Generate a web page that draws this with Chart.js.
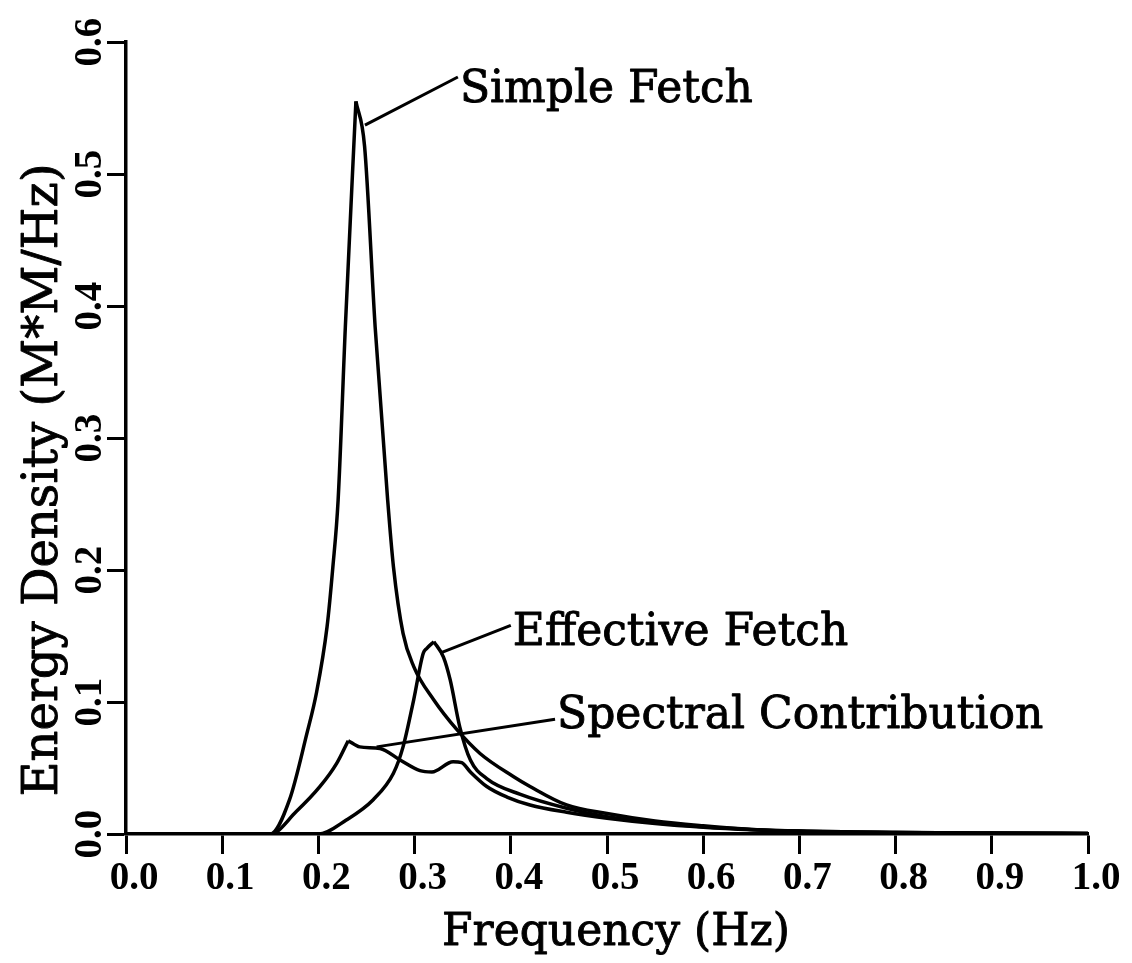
<!DOCTYPE html>
<html lang="en">
<head>
<meta charset="utf-8"/>
<title>Energy Density Spectra</title>
<script src="https://cdn.jsdelivr.net/npm/chart.js"></script>
<style>
  html, body { margin: 0; padding: 0; background: #fff; }
  #spectrum { display: block; }
</style>
</head>
<body>
<canvas id="spectrum" width="1132" height="963"></canvas>
<script>
  // spectra: frequency (Hz) / energy density (M*M/Hz)
  const simpleFreq   = [0.0, 0.150, 0.170, 0.188, 0.198, 0.209, 0.215, 0.2205, 0.228, 0.239, 0.248, 0.259, 0.272, 0.278, 0.288, 0.299, 0.320, 0.344, 0.368, 0.403, 0.420, 0.458, 0.500, 0.550, 0.600, 0.650, 0.700, 0.800, 0.900, 1.0];
  const simpleEnergy = [0.0, 0.0,   0.026, 0.076, 0.107, 0.157, 0.202, 0.253,  0.384, 0.555, 0.521, 0.384, 0.253, 0.2025, 0.152, 0.127, 0.1015, 0.079, 0.061, 0.0434, 0.036, 0.022, 0.0155, 0.0098, 0.0062, 0.0035, 0.0022, 0.0012, 0.0007, 0.0004];

  const effectiveFreq   = [0.0, 0.200, 0.229, 0.257, 0.278, 0.288, 0.299, 0.309, 0.3125, 0.320, 0.330, 0.337, 0.347, 0.358, 0.375, 0.410, 0.458, 0.500, 0.550, 0.600, 0.650, 0.700, 0.800, 0.900, 1.0];
  const effectiveEnergy = [0.0, 0.0,   0.0106, 0.026, 0.046, 0.066, 0.1015, 0.137, 0.1405, 0.1457, 0.134, 0.1167, 0.081, 0.056, 0.042, 0.030, 0.0195, 0.013, 0.0085, 0.0055, 0.0035, 0.0022, 0.0012, 0.0007, 0.0004];

  const spectralFreq   = [0.0, 0.150, 0.177, 0.2017, 0.219, 0.231, 0.243, 0.264, 0.285, 0.3056, 0.318, 0.340, 0.349, 0.358, 0.375, 0.396, 0.420, 0.458, 0.500, 0.550, 0.600, 0.650, 0.700, 0.800, 0.900, 1.0];
  const spectralEnergy = [0.0, 0.0,   0.017, 0.036, 0.0535, 0.0707, 0.066, 0.0648, 0.056, 0.048, 0.047, 0.0548, 0.054, 0.047, 0.036, 0.028, 0.022, 0.0165, 0.012, 0.008, 0.0052, 0.0033, 0.0021, 0.0011, 0.0006, 0.0003];

  // curve labels: text, leader start (on curve), leader end / text anchor
  const curveLabels  = ['Simple Fetch', 'Effective Fetch', 'Spectral Contribution'];
  const leaderFreq   = [[0.2484, 0.345], [0.3264, 0.400], [0.2605, 0.446]];
  const leaderEnergy = [[0.537, 0.5735], [0.137, 0.158], [0.066, 0.087]];
  const labelEnergy  = [0.5545, 0.143, 0.080];

  const yTicks = [0.0, 0.1, 0.2, 0.3, 0.4, 0.5, 0.6];

  const zip = (xs, ys) => xs.map((x, i) => ({ x: x, y: ys[i] }));

  const lineStyle = {
    borderColor: '#000',
    borderWidth: 3.5,
    borderJoinStyle: 'round',
    pointRadius: 0,
    cubicInterpolationMode: 'monotone',
    fill: false
  };

  // smooth flanks, sharp crest: each spectrum is drawn as two halves meeting at its maximum
  const curve = (label, xs, ys) => {
    const pts = zip(xs, ys);
    const k = ys.indexOf(Math.max(...ys));
    return [
      Object.assign({ label: label + ' (rise)', data: pts.slice(0, k + 1) }, lineStyle),
      Object.assign({ label: label + ' (fall)', data: pts.slice(k) }, lineStyle)
    ];
  };

  const leaders = leaderFreq.map((xs, i) => ({
    label: curveLabels[i] + ' leader',
    data: zip(xs, leaderEnergy[i]),
    borderColor: '#000',
    borderWidth: 3,
    pointRadius: 0,
    tension: 0,
    fill: false
  }));

  const tickFont = 'bold 39px "Liberation Serif", serif';
  const labelFont = '44px "DejaVu Serif", serif';
  const yTitleFont = '48px "DejaVu Serif", serif';

  // filled text with a thin outline so the serif face reads a little heavier
  const inkText = (ctx, t, x, y) => {
    ctx.fillText(t, x, y);
    ctx.strokeText(t, x, y);
  };

  // rotated y tick labels, axis titles and curve labels
  const textLayer = {
    id: 'textLayer',
    afterDraw(chart) {
      const ctx = chart.ctx;
      const x = chart.scales.x, y = chart.scales.y;
      const area = chart.chartArea;
      ctx.save();
      ctx.fillStyle = '#000';
      ctx.strokeStyle = '#000';
      ctx.lineWidth = 0.9;
      ctx.lineJoin = 'round';

      ctx.font = tickFont;
      ctx.textAlign = 'center';
      ctx.textBaseline = 'alphabetic';
      yTicks.forEach(v => {
        ctx.save();
        ctx.translate(area.left - 25, y.getPixelForValue(v));
        ctx.rotate(-Math.PI / 2);
        ctx.fillText(v.toFixed(1), 0, 0);
        ctx.restore();
      });

      ctx.font = yTitleFont;
      ctx.save();
      ctx.translate(57, 480);
      ctx.rotate(-Math.PI / 2);
      inkText(ctx, 'Energy Density (M*M/Hz)', 0, 0);
      ctx.restore();

      ctx.font = labelFont;
      inkText(ctx, 'Frequency (Hz)', (area.left + area.right) / 2 + 9, 945);

      ctx.textAlign = 'left';
      curveLabels.forEach((t, i) => {
        inkText(ctx, t, x.getPixelForValue(leaderFreq[i][1]) + 2, y.getPixelForValue(labelEnergy[i]));
      });
      ctx.restore();
    }
  };

  new Chart(document.getElementById('spectrum'), {
    type: 'line',
    data: {
      datasets: [
        ...curve('Simple Fetch', simpleFreq, simpleEnergy),
        ...curve('Effective Fetch', effectiveFreq, effectiveEnergy),
        ...curve('Spectral Contribution', spectralFreq, spectralEnergy),
        ...leaders
      ]
    },
    options: {
      responsive: false,
      animation: false,
      layout: { padding: { top: 42, right: 44, left: 0, bottom: 0 } },
      plugins: { legend: { display: false }, tooltip: { enabled: false } },
      scales: {
        x: {
          type: 'linear',
          min: 0,
          max: 1,
          afterFit: s => { s.height = 129; },
          ticks: {
            stepSize: 0.1,
            color: '#000',
            font: { family: '"Liberation Serif", serif', size: 39, weight: 'bold' },
            padding: 2,
            labelOffset: 8,
            maxRotation: 0,
            callback: v => v.toFixed(1)
          },
          grid: { drawOnChartArea: false, drawTicks: true, tickLength: 20, tickWidth: 3, tickColor: '#000' },
          border: { display: true, color: '#000', width: 3.5 }
        },
        y: {
          type: 'linear',
          min: 0,
          max: 0.6,
          afterFit: s => { s.width = 126; },
          ticks: { stepSize: 0.1, display: false },
          grid: { drawOnChartArea: false, drawTicks: true, tickLength: 19, tickWidth: 3, tickColor: '#000' },
          border: { display: true, color: '#000', width: 3.5 }
        }
      }
    },
    plugins: [textLayer]
  });
</script>
</body>
</html>
